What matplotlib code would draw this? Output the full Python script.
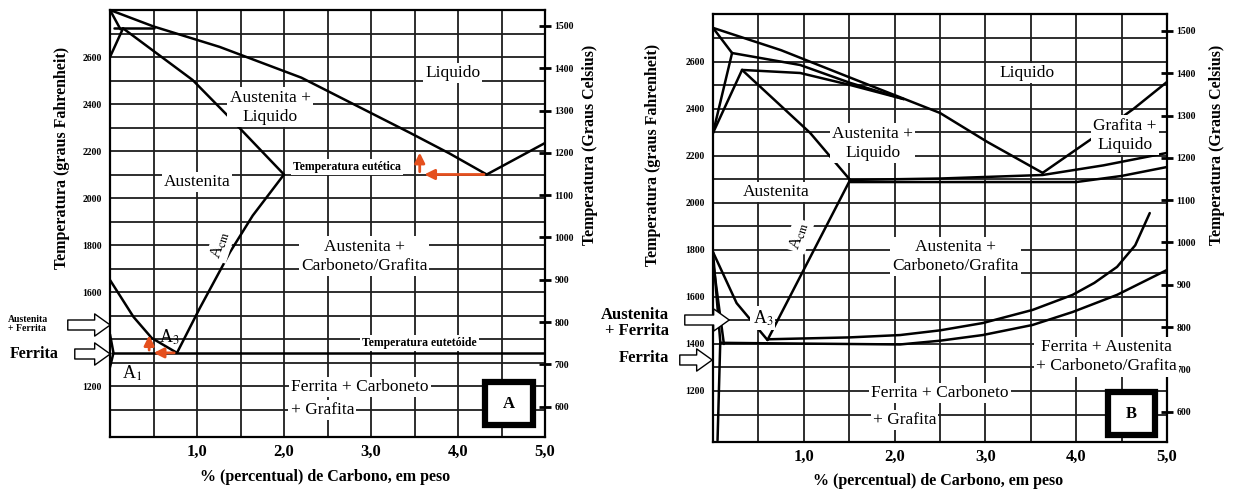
import matplotlib.pyplot as plt
from matplotlib.patches import Rectangle, FancyArrowPatch
import numpy as np

plt.rcParams['font.family'] = ['Liberation Serif', 'DejaVu Serif']
plt.rcParams['mathtext.fontset'] = 'stix'

W, H = 1238, 493

# grade e rotulos dos eixos
x_grid = [0.5, 1.0, 1.5, 2.0, 2.5, 3.0, 3.5, 4.0, 4.5, 5.0]
x_labels = {1.0: '1,0', 2.0: '2,0', 3.0: '3,0', 4.0: '4,0', 5.0: '5,0'}
f_grid = list(range(1100, 2800, 100))
a_f_labels = [1200, 1600, 1800, 2000, 2200, 2400, 2600]
b_f_labels = [1200, 1400, 1600, 1800, 2000, 2200, 2400, 2600]
c_ticks = [600, 700, 800, 900, 1000, 1100, 1200, 1300, 1400, 1500]

# ---- painel A (% C, graus F) ----
a_liquidus_x = [0, 0.5, 1.26, 2.2, 3.45, 3.9, 4.33]
a_liquidus_f = [2800, 2730, 2643, 2512, 2277, 2190, 2100]
a_graf_liq_x = [4.33, 5.0]
a_graf_liq_f = [2100, 2234]
a_delta1_x = [0, 0.12]
a_delta1_f = [2800, 2718]
a_delta2_x = [0, 0.15]
a_delta2_f = [2600, 2722]
a_perit_x = [0.05, 0.5]
a_perit_f = [2722, 2722]
a_solidus_x = [0.15, 0.95, 1.38, 2.0]
a_solidus_f = [2722, 2502, 2340, 2100]
a_acm_x = [0.77, 1.03, 1.38, 1.64, 2.0]
a_acm_f = [1341, 1530, 1770, 1925, 2100]
a_a3_x = [0, 0.27, 0.48, 0.77]
a_a3_f = [1651, 1494, 1404, 1341]
a_eutectoid_x = [0.02, 5.0]
a_eutectoid_f = [1341, 1341]
a_ferr_x = [0, 0.04, 0]
a_ferr_f = [1420, 1341, 1280]
# setas vermelhas: (x inicial, f inicial, x final, f final)
a_red_arrows = [(3.56, 2100, 3.56, 2205), (4.33, 2100, 3.58, 2100),
                (0.45, 1341, 0.45, 1428), (0.77, 1341, 0.47, 1341)]

# ---- painel B ----
b_liquidus_x = [0, 0.75, 1.5, 2.5, 3.02, 3.63]
b_liquidus_f = [2745, 2650, 2535, 2383, 2260, 2128]
b_graf_liq_x = [3.63, 4.23, 4.63, 5.0]
b_graf_liq_f = [2128, 2289, 2400, 2515]
b_l2_x = [0.21, 0.96, 1.51, 2.1]
b_l2_f = [2638, 2587, 2511, 2442]
b_l3_x = [0.32, 0.96, 1.51, 2.1]
b_l3_f = [2566, 2553, 2502, 2442]
b_delta1_x = [0, 0.21]
b_delta1_f = [2745, 2638]
b_delta2_x = [0.21, 0]
b_delta2_f = [2638, 2298]
b_delta3_x = [0.32, 0]
b_delta3_f = [2566, 2298]
b_solidus_x = [0.32, 1.07, 1.51]
b_solidus_f = [2566, 2298, 2098]
b_eut_up_x = [1.51, 2.5, 3.63, 4.3, 5.0]
b_eut_up_f = [2098, 2104, 2119, 2160, 2213]
b_eut_lo_x = [1.51, 3.0, 4.0, 4.5, 5.0]
b_eut_lo_f = [2089, 2089, 2089, 2115, 2153]
b_acm_x = [0.6, 1.51]
b_acm_f = [1417, 2098]
b_a3_x = [0, 0.26, 0.6]
b_a3_f = [1791, 1574, 1417]
b_ferr1_x = [0, 0.08, 0.05]
b_ferr1_f = [1791, 1410, 990]
b_ferr2_x = [0, 0.12]
b_ferr2_f = [1750, 1400]
b_upper_x = [0.6, 1.5, 2.06, 2.5, 2.97, 3.52, 3.96, 4.2, 4.45, 4.65, 4.81]
b_upper_f = [1420, 1428, 1438, 1458, 1489, 1545, 1609, 1660, 1728, 1820, 1957]
b_lower_x = [0.08, 0.6, 1.5, 2.06, 2.5, 2.97, 3.52, 3.96, 4.45, 5.0]
b_lower_f = [1405, 1403, 1400, 1398, 1414, 1438, 1481, 1536, 1609, 1715]


def f2c(f):
    return (np.asarray(f) - 32) * 5 / 9


def c2f(c):
    return np.asarray(c) * 9 / 5 + 32


def px(x, y):
    return x / W, 1 - y / H


def setup(ax, f_labels, top):
    ax.set_xlim(0, 5)
    ax.set_ylim(983, top)
    ax.set_xticks(x_grid)
    ax.set_xticklabels([x_labels.get(v, '') for v in x_grid],
                       fontsize=12, fontweight='bold')
    ax.tick_params(axis='x', length=0, pad=5)
    ax.set_yticks(f_grid)
    ax.set_yticklabels([str(v) if v in f_labels else '' for v in f_grid],
                       fontsize=7, fontweight='bold')
    ax.tick_params(axis='y', length=0, pad=6)
    ax.grid(True, color='#1e1e1e', lw=1.3)
    ax.set_axisbelow(True)
    for s in ax.spines.values():
        s.set_linewidth(1.6)
    sec = ax.secondary_yaxis('right', functions=(f2c, c2f))
    sec.set_yticks(c_ticks)
    sec.set_yticklabels([str(v) for v in c_ticks], fontsize=7, fontweight='bold')
    sec.tick_params(direction='inout', length=8, width=2, pad=3)
    sec.spines['right'].set_visible(False)


def box_text(ax, x, y, s, fs=12.5, **kw):
    ax.text(x, y, s, fontsize=fs, ha='center', va='center', zorder=5,
            linespacing=1.25,
            bbox=dict(fc='white', ec='none', pad=1.5), **kw)


fig = plt.figure(figsize=(W / 100, H / 100), dpi=100)
axA = fig.add_axes([110 / W, 1 - 437 / H, 435 / W, 427 / H])
axB = fig.add_axes([713 / W, 1 - 442 / H, 454 / W, 428 / H])
setup(axA, a_f_labels, 2800)
setup(axB, b_f_labels, 2804)

lk = dict(color='black', lw=1.8, zorder=3, solid_capstyle='round',
          solid_joinstyle='round')

# painel A
for xs, fs in [(a_liquidus_x, a_liquidus_f), (a_graf_liq_x, a_graf_liq_f),
               (a_delta1_x, a_delta1_f), (a_delta2_x, a_delta2_f),
               (a_perit_x, a_perit_f), (a_solidus_x, a_solidus_f),
               (a_acm_x, a_acm_f), (a_a3_x, a_a3_f),
               (a_eutectoid_x, a_eutectoid_f), (a_ferr_x, a_ferr_f)]:
    axA.plot(xs, fs, **lk)
for x0, f0, x1, f1 in a_red_arrows:
    axA.annotate('', xy=(x1, f1), xytext=(x0, f0), zorder=6,
                 arrowprops=dict(arrowstyle='-|>,head_length=0.6,head_width=0.3',
                                 color='#e5501e', lw=2))

box_text(axA, 3.94, 2532, 'Liquido')
box_text(axA, 1.84, 2387, 'Austenita +\nLiquido')
box_text(axA, 1.0, 2068, 'Austenita')
box_text(axA, 2.72, 2132, 'Temperatura eutética', fs=8.5, fontweight='bold')
box_text(axA, 1.27, 1800, r'A$_{\rm cm}$', fs=12, rotation=72)
box_text(axA, 2.92, 1753, 'Austenita +\nCarboneto/Grafita')
axA.text(0.68, 1408, r'A$_3$', fontsize=13, ha='center', va='center', zorder=5)
axA.text(0.25, 1255, r'A$_1$', fontsize=13, ha='center', va='center', zorder=5)
box_text(axA, 3.56, 1383, 'Temperatura eutetóide', fs=8.5, fontweight='bold')
box_text(axA, 2.87, 1196, 'Ferrita + Carboneto')
box_text(axA, 2.44, 1098, '+ Grafita')
axA.add_patch(Rectangle((4.31, 1034), 0.55, 183, fc='white', ec='black',
                        lw=4.5, zorder=6))
axA.text(4.585, 1125, 'A', fontsize=12, fontweight='bold', ha='center',
         va='center', zorder=7)

# painel B
for xs, fs in [(b_liquidus_x, b_liquidus_f), (b_graf_liq_x, b_graf_liq_f),
               (b_l2_x, b_l2_f), (b_l3_x, b_l3_f),
               (b_delta1_x, b_delta1_f), (b_delta2_x, b_delta2_f),
               (b_delta3_x, b_delta3_f), (b_solidus_x, b_solidus_f),
               (b_eut_up_x, b_eut_up_f), (b_eut_lo_x, b_eut_lo_f),
               (b_acm_x, b_acm_f), (b_a3_x, b_a3_f),
               (b_ferr1_x, b_ferr1_f), (b_ferr2_x, b_ferr2_f),
               (b_upper_x, b_upper_f), (b_lower_x, b_lower_f)]:
    axB.plot(xs, fs, **lk)

box_text(axB, 3.46, 2553, 'Liquido')
box_text(axB, 1.76, 2255, 'Austenita +\nLiquido')
box_text(axB, 4.54, 2289, 'Grafita +\nLiquido')
box_text(axB, 0.70, 2047, 'Austenita')
box_text(axB, 0.95, 1860, r'A$_{\rm cm}$', fs=12, rotation=72)
box_text(axB, 2.67, 1774, 'Austenita +\nCarboneto/Grafita')
box_text(axB, 0.55, 1511, r'A$_3$', fs=13)
box_text(axB, 4.33, 1345, 'Ferrita + Austenita\n+ Carboneto/Grafita')
box_text(axB, 2.5, 1191, 'Ferrita + Carboneto')
box_text(axB, 2.11, 1077, '+ Grafita')
axB.add_patch(Rectangle((4.35, 1013), 0.52, 183, fc='white', ec='black',
                        lw=4.5, zorder=6))
axB.text(4.61, 1104, 'B', fontsize=12, fontweight='bold', ha='center',
         va='center', zorder=7)

# rotulos dos eixos
fig.text(*px(62, 158), 'Temperatura (graus Fahrenheit)', rotation=90,
         ha='center', va='center', fontsize=11.5, fontweight='bold')
fig.text(*px(590, 145), 'Temperatura (Graus Celsius)', rotation=90,
         ha='center', va='center', fontsize=11.5, fontweight='bold')
fig.text(*px(325, 477), '% (percentual) de Carbono, em peso',
         ha='center', va='center', fontsize=11.5, fontweight='bold')
fig.text(*px(653, 155), 'Temperatura (graus Fahrenheit)', rotation=90,
         ha='center', va='center', fontsize=11.5, fontweight='bold')
fig.text(*px(1217, 145), 'Temperatura (Graus Celsius)', rotation=90,
         ha='center', va='center', fontsize=11.5, fontweight='bold')
fig.text(*px(938, 481), '% (percentual) de Carbono, em peso',
         ha='center', va='center', fontsize=11.5, fontweight='bold')

# setas brancas fora dos eixos
hollow = dict(arrowstyle='simple,head_length=0.7,head_width=1.0,tail_width=0.45',
              fc='white', ec='black', lw=1)
fig.text(*px(8, 324), 'Austenita\n+ Ferrita', ha='left', va='center',
         fontsize=7, fontweight='bold', linespacing=1.1)
fig.text(*px(10, 354), 'Ferrita', ha='left', va='center', fontsize=11.5,
         fontweight='bold')
fig.text(*px(669, 323), 'Austenita\n+ Ferrita', ha='right', va='center',
         fontsize=12, fontweight='bold', linespacing=1.05)
fig.text(*px(669, 358), 'Ferrita', ha='right', va='center', fontsize=12,
         fontweight='bold')
for x0, x1, y in [(65, 113, 325), (72, 113, 354), (682, 732, 320), (677, 715, 360)]:
    fig.patches.append(FancyArrowPatch(
        (x0 / W, 1 - y / H), (x1 / W, 1 - y / H), transform=fig.transFigure,
        mutation_scale=16, zorder=10, **hollow))

fig.savefig('out.png', dpi=100)
